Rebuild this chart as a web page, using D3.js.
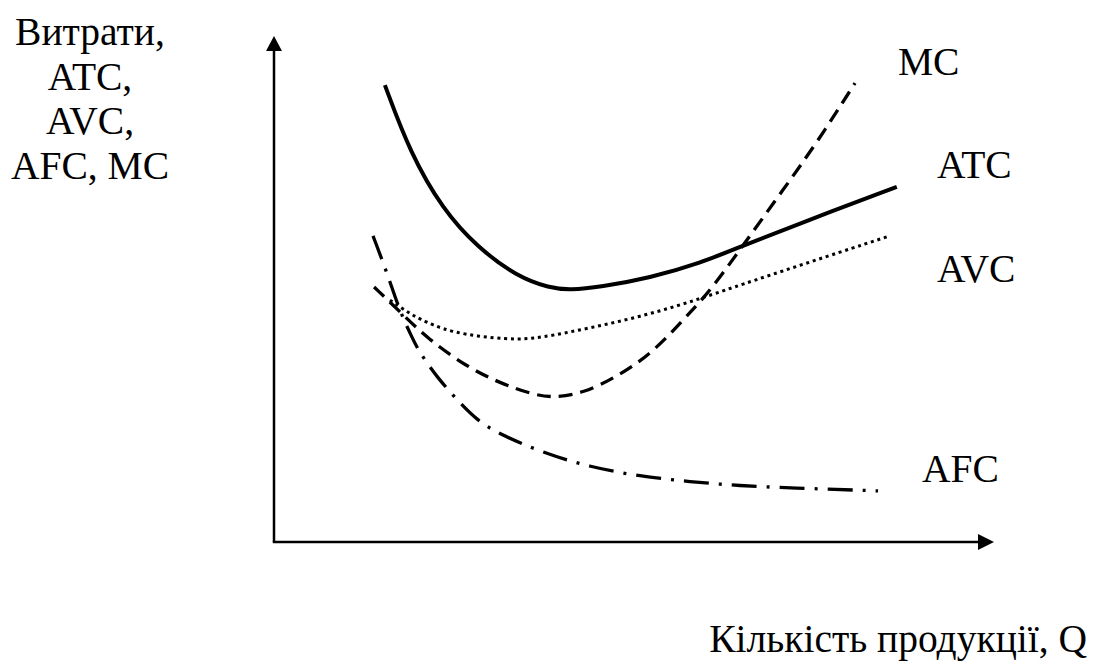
<!DOCTYPE html>
<html><head><meta charset="utf-8">
<script src="https://cdn.jsdelivr.net/npm/d3@7/dist/d3.min.js"></script>
<style>html,body{margin:0;padding:0;background:#fff;}svg{display:block;}
text{font-family:"Liberation Serif","Times New Roman",serif;font-size:39.5px;fill:#000;}</style>
</head><body>
<svg id="c" width="1100" height="661"></svg>
<script>
// Data (quantity index 0..100, cost index 0..100)
const atcX = [15.4, 18.9, 23.5, 28.2, 33.8, 38.3, 41.1, 45.3, 52.2, 59.2, 65.4, 73.1, 86.5];
const atcY = [90.3, 76.9, 65.6, 58.3, 52.4, 50.2, 49.8, 50.4, 52.2, 55.1, 58.7, 63.0, 70.2];
const avcX = [16.1, 18.5, 19.9, 24.4, 32.8, 36.9, 43.9, 50.8, 57.8, 64.7, 85.1];
const avcY = [47.8, 45.5, 44.3, 41.3, 39.9, 40.3, 42.3, 44.5, 47.4, 50.8, 60.3];
const mcX = [13.9, 17.5, 21.4, 26.8, 31.4, 36.0, 39.0, 42.9, 47.6, 52.6, 57.1, 59.9, 62.4, 65.7, 70.7, 75.4, 80.7];
const mcY = [50.4, 45.5, 40.1, 34.6, 31.4, 29.1, 28.5, 29.4, 32.6, 37.4, 44.3, 48.6, 53.2, 59.7, 69.6, 78.9, 90.7];
const afcX = [13.75, 15.7, 17.5, 18.9, 20.0, 22.6, 25.8, 28.2, 31.0, 37.4, 43.9, 50.8, 57.8, 64.7, 71.7, 83.9];
const afcY = [60.5, 53.2, 45.5, 41.3, 37.9, 32.6, 27.5, 24.1, 21.5, 17.6, 14.8, 13.0, 11.9, 11.1, 10.7, 10.1];
const curveNames = ["MC", "ATC", "AVC", "AFC"];
const yTitle = ["Витрати,", "ATC,", "AVC,", "AFC, MC"];
const xTitle = "Кількість продукції, Q";

const svg = d3.select("#c");
const x = d3.scaleLinear().domain([0, 100]).range([274, 994]);
const y = d3.scaleLinear().domain([0, 100]).range([542, 36]);

// axes
svg.append("line").attr("x1", x(0)).attr("y1", y(0)).attr("x2", x(0)).attr("y2", y(100) + 12)
  .attr("stroke", "#000").attr("stroke-width", 2.5);
svg.append("line").attr("x1", x(0) - 1.2).attr("y1", y(0)).attr("x2", x(100) - 14).attr("y2", y(0))
  .attr("stroke", "#000").attr("stroke-width", 2.5);
svg.append("path").attr("d", `M${x(0)},${y(100)} L${x(0) - 8},${y(100) + 15} L${x(0) + 8},${y(100) + 15} Z`).attr("fill", "#000");
svg.append("path").attr("d", `M${x(100)},${y(0)} L${x(100) - 16},${y(0) - 8} L${x(100) - 16},${y(0) + 8} Z`).attr("fill", "#000");

const line = d3.line().x(d => x(d[0])).y(d => y(d[1])).curve(d3.curveBasis);
const zip = (a, b) => a.map((v, i) => [v, b[i]]);

svg.append("path").attr("d", line(zip(atcX, atcY))).attr("fill", "none")
  .attr("stroke", "#000").attr("stroke-width", 4);
svg.append("path").attr("d", line(zip(avcX, avcY))).attr("fill", "none")
  .attr("stroke", "#000").attr("stroke-width", 3).attr("stroke-dasharray", "3,3.8");
svg.append("path").attr("d", line(zip(mcX, mcY))).attr("fill", "none")
  .attr("stroke", "#000").attr("stroke-width", 3.3).attr("stroke-dasharray", "14,8");
svg.append("path").attr("d", line(zip(afcX, afcY))).attr("fill", "none")
  .attr("stroke", "#000").attr("stroke-width", 3.3).attr("stroke-dasharray", "25,10,3,10");

// curve labels
const labelPos = [[898, 75], [937, 178], [937, 282], [922, 482]];
svg.selectAll("text.cl").data(curveNames).enter().append("text")
  .attr("class", "cl").attr("x", (d, i) => labelPos[i][0]).attr("y", (d, i) => labelPos[i][1])
  .text(d => d);

// y title
svg.selectAll("text.yt").data(yTitle).enter().append("text")
  .attr("class", "yt").attr("x", 90).attr("y", (d, i) => 45 + i * 44.7)
  .attr("text-anchor", "middle").text(d => d);

// x title
svg.append("text").attr("x", 1087).attr("y", 652).attr("text-anchor", "end").text(xTitle);
</script>
</body></html>
